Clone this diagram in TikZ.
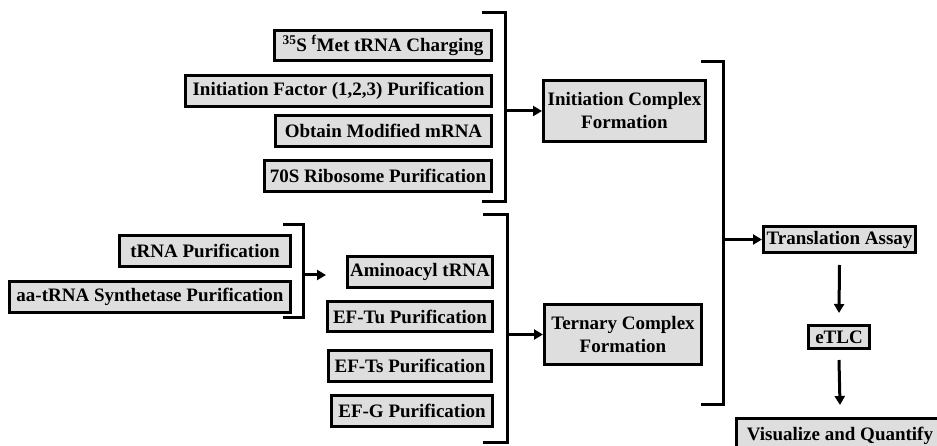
\documentclass[tikz,border=0pt]{standalone}
\usepackage{fontspec}
\setmainfont{Liberation Serif}
\usetikzlibrary{arrows.meta}
\definecolor{boxfill}{RGB}{222,222,222}
\tikzset{
  box/.style={draw=black, fill=boxfill, line width=3pt, inner sep=0pt, align=center,
    font=\fontsize{19}{23}\selectfont\bfseries},
  brk/.style={line width=3pt, line join=miter},
  arr/.style={line width=3pt, -{Triangle[length=9pt,width=10pt]}}
}
\newcommand{\bx}[6]{\node[box, minimum width={#4-#2-3pt}, minimum height={#5-#3-3pt}] (#1) at ({(#2+#4)/2},{(#3+#5)/2}) {#6};}
\begin{document}
\begin{tikzpicture}[x=1pt,y=-1pt]
\useasboundingbox (0,0) rectangle (937,446);
\clip (0,0) rectangle (937,446);
\fill[white] (0,0) rectangle (937,446);
% initiation inputs
\bx{b1}{273}{29}{493}{62}{\textsuperscript{35}S \textsuperscript{f}Met tRNA Charging}
\bx{b2}{184}{74}{493}{108}{Initiation Factor (1,2,3) Purification}
\bx{b3}{274}{114}{493}{148}{Obtain Modified mRNA}
\bx{b4}{263}{159}{493}{193}{70S Ribosome Purification}
\coordinate (k1t) at (482,13);
\coordinate (k1b) at (482,202);
\draw[brk] (k1t) -| (505,202) -- (k1b);
\coordinate (k1m) at (505,111);
\bx{ic}{542}{79}{707}{143}{Initiation Complex\\Formation}
\draw[arr] (k1m) -- (ic.west);
% tRNA group
\bx{b5}{118}{234}{292}{268}{tRNA Purification}
\bx{b6}{8}{280}{292}{314}{aa-tRNA Synthetase Purification}
\coordinate (k2t) at (283,225);
\coordinate (k2b) at (283,318);
\draw[brk] (k2t) -| (303,318) -- (k2b);
\coordinate (k2m) at (303,275);
\coordinate (k2e) at (326,275);
\draw[arr] (k2m) -- (k2e);
% ternary inputs
\bx{b7}{346}{255}{494}{289}{Aminoacyl tRNA}
\bx{b8}{326}{300}{494}{333}{EF-Tu Purification}
\bx{b9}{327}{349}{493}{383}{EF-Ts Purification}
\bx{b10}{330}{394}{494}{428}{EF-G Purification}
\coordinate (k4t) at (483,215);
\coordinate (k4b) at (483,442);
\draw[brk] (k4t) -| (507,442) -- (k4b);
\coordinate (k4m) at (507,334.5);
\bx{tc}{543}{303}{703}{366}{Ternary Complex\\Formation}
\draw[arr] (k4m) -- (tc.west);
% main bracket
\coordinate (k3t) at (701,62);
\coordinate (k3b) at (701,404);
\draw[brk] (k3t) -| (723,404) -- (k3b);
\coordinate (k3m) at (723,239.5);
\bx{ta}{762}{225}{917}{254}{Translation Assay}
\draw[arr] (k3m) -- (ta.west);
\bx{et}{807}{324}{871}{350}{eTLC}
\bx{vq}{735}{417}{945}{455}{Visualize and Quantify}
\draw[arr] ([yshift=-11pt]ta.south) -- ([yshift=11pt]et.north);
\draw[arr] ([yshift=-10pt]et.south) -- ([yshift=12pt]vq.north);
\end{tikzpicture}
\end{document}
